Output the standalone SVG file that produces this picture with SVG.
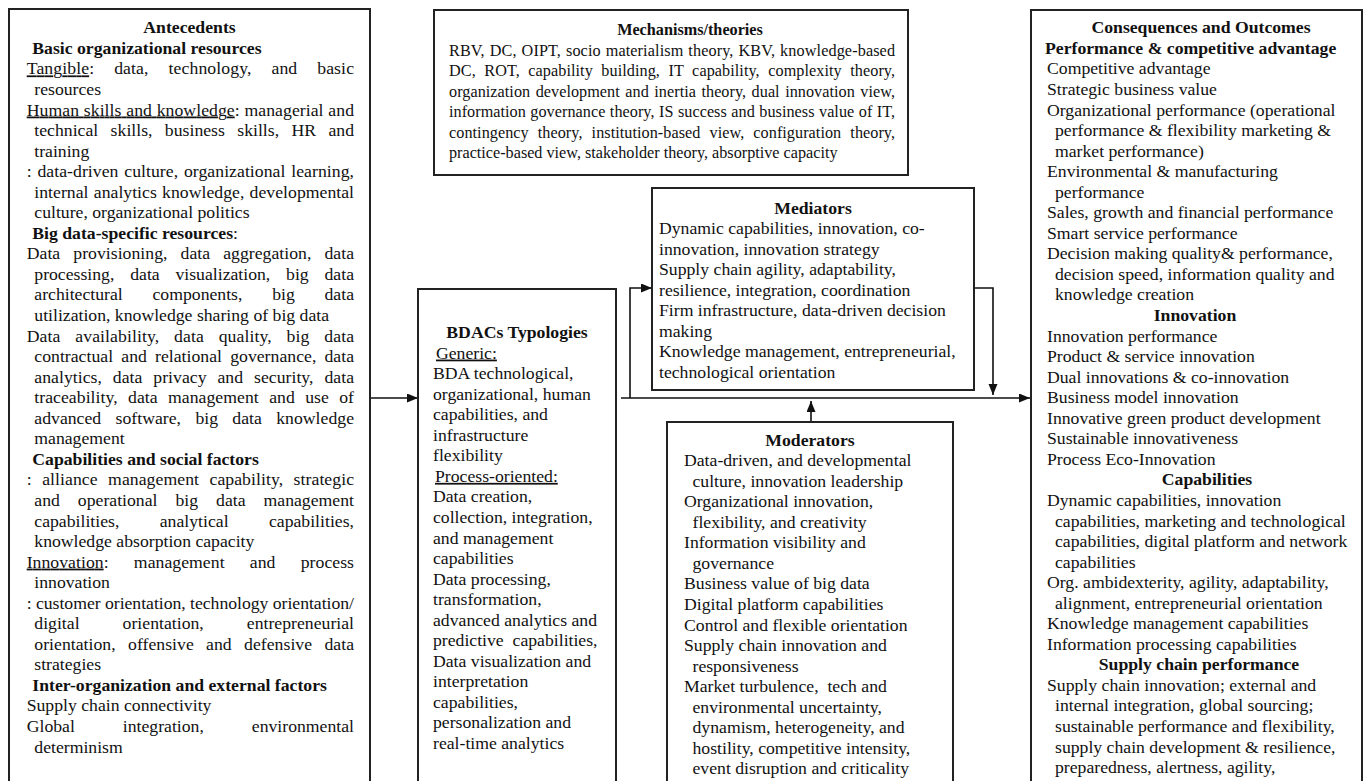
<svg xmlns="http://www.w3.org/2000/svg" width="1372" height="781" viewBox="0 0 1372 781">
<style>
.t{font-family:"Liberation Serif","Times New Roman",serif;font-size:17.7px;fill:#111}
.s{font-size:16.2px}
.b{font-weight:bold}
.m{text-anchor:middle}
.u{text-decoration:underline}
.box{fill:#fff;stroke:#222;stroke-width:2}
.c{stroke:#111;stroke-width:1.6;fill:none}
</style>
<defs>
<marker id="ah" markerUnits="userSpaceOnUse" markerWidth="12" markerHeight="10" refX="11" refY="4.5" orient="auto">
<path d="M0,0 L11,4.5 L0,9 z" fill="#111"/>
</marker>
</defs>
<rect width="1372" height="781" fill="#fff"/>

<g id="connectors">
<path class="c" d="M370,398 H418" marker-end="url(#ah)"/>
<path class="c" d="M621,398 H1030" marker-end="url(#ah)"/>
<path class="c" d="M630,398 V288 H652" marker-end="url(#ah)"/>
<path class="c" d="M974,288 H993 V395" marker-end="url(#ah)"/>
<path class="c" d="M811,422 V401" marker-end="url(#ah)"/>
</g>

<g id="antecedents">
<rect class="box" x="9" y="9" width="361" height="790"/>
<text class="t b m" x="189.5" y="33.3">Antecedents</text>
<text class="t b" x="32.3" y="53.85">Basic organizational resources</text>
<text class="t" x="26.7" y="74.4" textLength="327.3" lengthAdjust="spacing" style="word-spacing:15.3px"><tspan class="u">Tangible</tspan>: data, technology, and basic</text>
<text class="t" x="34.3" y="94.95">resources</text>
<text class="t" x="26.7" y="115.5" textLength="327.3" lengthAdjust="spacing" style="word-spacing:0.3px"><tspan class="u">Human skills and knowledge</tspan>: managerial and</text>
<text class="t" x="34.3" y="136.05" textLength="319.7" lengthAdjust="spacing" style="word-spacing:7.9px">technical skills, business skills, HR and</text>
<text class="t" x="34.3" y="156.6">training</text>
<text class="t" x="26.7" y="177.15" textLength="327.3" lengthAdjust="spacing" style="word-spacing:1.3px">: data-driven culture, organizational learning,</text>
<text class="t" x="34.3" y="197.7" textLength="319.7" lengthAdjust="spacing" style="word-spacing:0.8px">internal analytics knowledge, developmental</text>
<text class="t" x="34.3" y="218.25">culture, organizational politics</text>
<text class="t" x="32.3" y="238.8"><tspan class="b">Big data-specific resources</tspan>:</text>
<text class="t" x="26.7" y="259.35" textLength="327.3" lengthAdjust="spacing" style="word-spacing:8.6px">Data provisioning, data aggregation, data</text>
<text class="t" x="34.3" y="279.9" textLength="319.7" lengthAdjust="spacing" style="word-spacing:11.4px">processing, data visualization, big data</text>
<text class="t" x="34.3" y="300.45" textLength="319.7" lengthAdjust="spacing" style="word-spacing:25.3px">architectural components, big data</text>
<text class="t" x="34.3" y="321">utilization, knowledge sharing of big data</text>
<text class="t" x="26.7" y="341.55" textLength="327.3" lengthAdjust="spacing" style="word-spacing:10.3px">Data availability, data quality, big data</text>
<text class="t" x="34.3" y="362.1" textLength="319.7" lengthAdjust="spacing" style="word-spacing:3.7px">contractual and relational governance, data</text>
<text class="t" x="34.3" y="382.65" textLength="319.7" lengthAdjust="spacing" style="word-spacing:6.4px">analytics, data privacy and security, data</text>
<text class="t" x="34.3" y="403.2" textLength="319.7" lengthAdjust="spacing" style="word-spacing:5.9px">traceability, data management and use of</text>
<text class="t" x="34.3" y="423.75" textLength="319.7" lengthAdjust="spacing" style="word-spacing:9.9px">advanced software, big data knowledge</text>
<text class="t" x="34.3" y="444.3">management</text>
<text class="t b" x="32.3" y="464.85">Capabilities and social factors</text>
<text class="t" x="26.7" y="485.4" textLength="327.3" lengthAdjust="spacing" style="word-spacing:6px">: alliance management capability, strategic</text>
<text class="t" x="34.3" y="505.95" textLength="319.7" lengthAdjust="spacing" style="word-spacing:13.5px">and operational big data management</text>
<text class="t" x="34.3" y="526.5" textLength="319.7" lengthAdjust="spacing" style="word-spacing:35.9px">capabilities, analytical capabilities,</text>
<text class="t" x="34.3" y="547.05">knowledge absorption capacity</text>
<text class="t" x="26.7" y="567.6" textLength="327.3" lengthAdjust="spacing" style="word-spacing:20.8px"><tspan class="u">Innovation</tspan>: management and process</text>
<text class="t" x="34.3" y="588.15">innovation</text>
<text class="t" x="26.7" y="608.7" textLength="327.3" lengthAdjust="spacing">: customer orientation, technology orientation/</text>
<text class="t" x="34.3" y="629.25" textLength="319.7" lengthAdjust="spacing" style="word-spacing:38.6px">digital orientation, entrepreneurial</text>
<text class="t" x="34.3" y="649.8" textLength="319.7" lengthAdjust="spacing" style="word-spacing:7.9px">orientation, offensive and defensive data</text>
<text class="t" x="34.3" y="670.35">strategies</text>
<text class="t b" x="32.3" y="690.9">Inter-organization and external factors</text>
<text class="t" x="26.7" y="711.45">Supply chain connectivity</text>
<text class="t" x="26.7" y="732" textLength="327.3" lengthAdjust="spacing" style="word-spacing:43.5px">Global integration, environmental</text>
<text class="t" x="34.3" y="752.55">determinism</text>
</g>

<g id="mechanisms">
<rect class="box" x="434" y="10" width="474" height="165"/>
<text class="t s b m" x="690" y="35">Mechanisms/theories</text>
<text class="t s" x="449" y="55.5" textLength="446" lengthAdjust="spacing" style="word-spacing:0.8px">RBV, DC, OIPT, socio materialism theory, KBV, knowledge-based</text>
<text class="t s" x="449" y="76" textLength="446" lengthAdjust="spacing" style="word-spacing:4.4px">DC, ROT, capability building, IT capability, complexity theory,</text>
<text class="t s" x="449" y="96.5" textLength="446" lengthAdjust="spacing" style="word-spacing:1.4px">organization development and inertia theory, dual innovation view,</text>
<text class="t s" x="449" y="117" textLength="446" lengthAdjust="spacing" style="word-spacing:0.4px">information governance theory, IS success and business value of IT,</text>
<text class="t s" x="449" y="137.5" textLength="446" lengthAdjust="spacing" style="word-spacing:5px">contingency theory, institution-based view, configuration theory,</text>
<text class="t s" x="449" y="158">practice-based view, stakeholder theory, absorptive capacity</text>
</g>

<g id="mediators">
<rect class="box" x="652" y="188" width="322" height="202"/>
<text class="t b m" x="813" y="213.5">Mediators</text>
<text class="t" x="659" y="234">Dynamic capabilities, innovation, co-</text>
<text class="t" x="659" y="254.5">innovation, innovation strategy</text>
<text class="t" x="659" y="275">Supply chain agility, adaptability,</text>
<text class="t" x="659" y="295.5">resilience, integration, coordination</text>
<text class="t" x="659" y="316">Firm infrastructure, data-driven decision</text>
<text class="t" x="659" y="336.5">making</text>
<text class="t" x="659" y="357">Knowledge management, entrepreneurial,</text>
<text class="t" x="659" y="377.5">technological orientation</text>
</g>

<g id="bdacs">
<rect class="box" x="418" y="289" width="198" height="510"/>
<text class="t b m" x="517" y="338">BDACs Typologies</text>
<text class="t" x="436" y="358.55"><tspan class="u">Generic:</tspan></text>
<text class="t" x="433" y="379.1">BDA technological,</text>
<text class="t" x="433" y="399.65">organizational, human</text>
<text class="t" x="433" y="420.2">capabilities, and</text>
<text class="t" x="433" y="440.75">infrastructure</text>
<text class="t" x="433" y="461.3">flexibility</text>
<text class="t" x="435" y="481.85"><tspan class="u">Process-oriented:</tspan></text>
<text class="t" x="433" y="502.4">Data creation,</text>
<text class="t" x="433" y="522.95">collection, integration,</text>
<text class="t" x="433" y="543.5">and management</text>
<text class="t" x="433" y="564.05">capabilities</text>
<text class="t" x="433" y="584.6">Data processing,</text>
<text class="t" x="433" y="605.15">transformation,</text>
<text class="t" x="433" y="625.7">advanced analytics and</text>
<text class="t" x="433" y="646.25">predictive&#160; capabilities,</text>
<text class="t" x="433" y="666.8">Data visualization and</text>
<text class="t" x="433" y="687.35">interpretation</text>
<text class="t" x="433" y="707.9">capabilities,</text>
<text class="t" x="433" y="728.45">personalization and</text>
<text class="t" x="433" y="749">real-time analytics</text>
</g>

<g id="moderators">
<rect class="box" x="667" y="422" width="286" height="377"/>
<text class="t b m" x="810" y="445.5">Moderators</text>
<text class="t" x="684" y="466">Data-driven, and developmental</text>
<text class="t" x="692.5" y="486.6">culture, innovation leadership</text>
<text class="t" x="684" y="507.2">Organizational innovation,</text>
<text class="t" x="692.5" y="527.7">flexibility, and creativity</text>
<text class="t" x="684" y="548.3">Information visibility and</text>
<text class="t" x="692.5" y="568.8">governance</text>
<text class="t" x="684" y="589.4">Business value of big data</text>
<text class="t" x="684" y="609.9">Digital platform capabilities</text>
<text class="t" x="684" y="630.5">Control and flexible orientation</text>
<text class="t" x="684" y="651">Supply chain innovation and</text>
<text class="t" x="692.5" y="671.6">responsiveness</text>
<text class="t" x="684" y="692.1">Market turbulence,&#160; tech and</text>
<text class="t" x="692.5" y="712.7">environmental uncertainty,</text>
<text class="t" x="692.5" y="733.2">dynamism, heterogeneity, and</text>
<text class="t" x="692.5" y="753.8">hostility, competitive intensity,</text>
<text class="t" x="692.5" y="774.3">event disruption and criticality</text>
</g>

<g id="consequences">
<rect class="box" x="1031" y="10" width="331" height="789"/>
<text class="t b m" x="1201" y="33.3">Consequences and Outcomes</text>
<text class="t b" x="1045" y="53.85">Performance &amp; competitive advantage</text>
<text class="t" x="1047" y="74.4">Competitive advantage</text>
<text class="t" x="1047" y="94.95">Strategic business value</text>
<text class="t" x="1047" y="115.5">Organizational performance (operational</text>
<text class="t" x="1055" y="136.05">performance &amp; flexibility marketing &amp;</text>
<text class="t" x="1055" y="156.6">market performance)</text>
<text class="t" x="1047" y="177.15">Environmental &amp; manufacturing</text>
<text class="t" x="1055" y="197.7">performance</text>
<text class="t" x="1047" y="218.25">Sales, growth and financial performance</text>
<text class="t" x="1047" y="238.8">Smart service performance</text>
<text class="t" x="1047" y="259.35">Decision making quality&amp; performance,</text>
<text class="t" x="1055" y="279.9">decision speed, information quality and</text>
<text class="t" x="1055" y="300.45">knowledge creation</text>
<text class="t b m" x="1195" y="321">Innovation</text>
<text class="t" x="1047" y="341.55">Innovation performance</text>
<text class="t" x="1047" y="362.1">Product &amp; service innovation</text>
<text class="t" x="1047" y="382.65">Dual innovations &amp; co-innovation</text>
<text class="t" x="1047" y="403.2">Business model innovation</text>
<text class="t" x="1047" y="423.75">Innovative green product development</text>
<text class="t" x="1047" y="444.3">Sustainable innovativeness</text>
<text class="t" x="1047" y="464.85">Process Eco-Innovation</text>
<text class="t b m" x="1207" y="485.4">Capabilities</text>
<text class="t" x="1047" y="505.95">Dynamic capabilities, innovation</text>
<text class="t" x="1055" y="526.5">capabilities, marketing and technological</text>
<text class="t" x="1055" y="547.05">capabilities, digital platform and network</text>
<text class="t" x="1055" y="567.6">capabilities</text>
<text class="t" x="1047" y="588.15">Org. ambidexterity, agility, adaptability,</text>
<text class="t" x="1055" y="608.7">alignment, entrepreneurial orientation</text>
<text class="t" x="1047" y="629.25">Knowledge management capabilities</text>
<text class="t" x="1047" y="649.8">Information processing capabilities</text>
<text class="t b m" x="1199" y="670.35">Supply chain performance</text>
<text class="t" x="1047" y="690.9">Supply chain innovation; external and</text>
<text class="t" x="1055" y="711.45">internal integration, global sourcing;</text>
<text class="t" x="1055" y="732">sustainable performance and flexibility,</text>
<text class="t" x="1055" y="752.55">supply chain development &amp; resilience,</text>
<text class="t" x="1055" y="773.1">preparedness, alertness, agility,</text>
</g>
</svg>
